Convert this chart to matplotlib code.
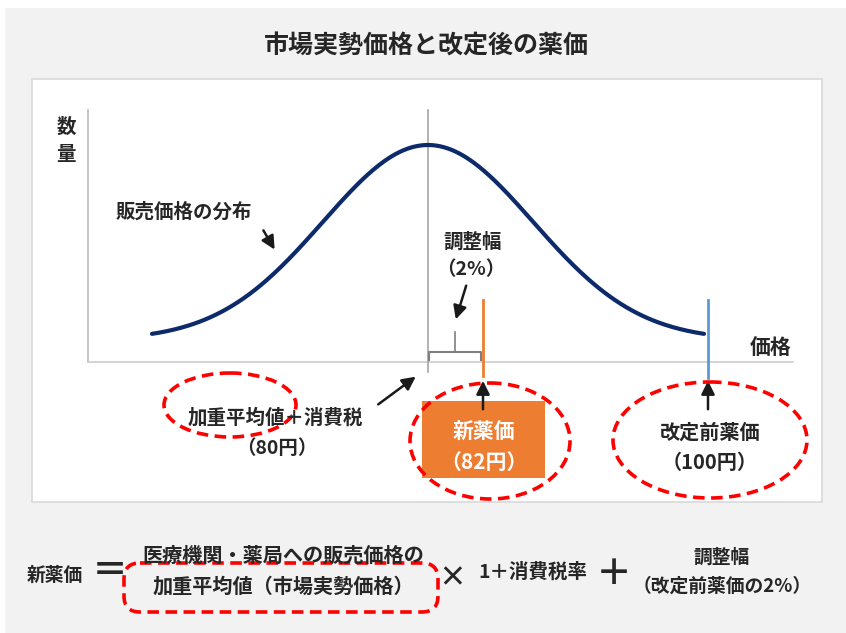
import numpy as np
import matplotlib
matplotlib.use("Agg")
import matplotlib.pyplot as plt
from matplotlib.patches import Rectangle, Ellipse, FancyBboxPatch, FancyArrowPatch

plt.rcParams['font.family'] = ['Noto Sans CJK JP', 'DejaVu Sans']

# --- data ---
title = "市場実勢価格と改定後の薬価"
prices = [80, 82, 100]                      # 加重平均値+消費税, 新薬価, 改定前薬価
price_names = ["加重平均値＋消費税", "新薬価", "改定前薬価"]
adjust_rate = 2                             # 調整幅 (%)
y_label = "数量"
x_label = "価格"
dist_label = "販売価格の分布"

# --- layout (pixel canvas, schematic price axis) ---
W, H = 846, 633
px = {80: 428, 82: 483, 100: 708}           # schematic x position of each price
axis_left, axis_right, axis_y, axis_top = 88, 793, 362, 110
curve_x0, curve_x1 = 152, 704
peak_y, base_y = 145, 340
TXT = "#262626"
RED_DASH = dict(facecolor="none", edgecolor="#ff0000", lw=2.6, ls=(0, (3.2, 1.8)))

fig = plt.figure(figsize=(W / 100, H / 100), dpi=100)
fig.patch.set_facecolor("white")
ax = fig.add_axes([0, 0, 1, 1])
ax.set_xlim(0, W)
ax.set_ylim(H, 0)
ax.axis("off")

# background and panel
ax.add_patch(Rectangle((5, 8), W - 5, H - 8, facecolor="#f2f2f2", edgecolor="none"))
ax.add_patch(Rectangle((32, 79), 790, 423, facecolor="white", edgecolor="#d9d9d9", lw=1.2))

ax.text(426, 47, title, ha="center", va="center", fontsize=18, fontweight="bold", color=TXT)

# axes lines
ax.plot([axis_left, axis_left], [axis_top, axis_y], color="#bfbfbf", lw=1.3)
ax.plot([axis_left, axis_right], [axis_y, axis_y], color="#d0d0d0", lw=1.3)
ax.plot([px[80], px[80]], [axis_top, 372], color="#a6a6a6", lw=1.2)

# distribution curve
xs = np.linspace(curve_x0, curve_x1, 300)
sigma = 105
ys = base_y - (base_y - peak_y) * np.exp(-0.5 * ((xs - px[80]) / sigma) ** 2)
ax.plot(xs, ys, color="#0d2a6b", lw=3, solid_capstyle="round")

# price marker lines
ax.plot([px[82], px[82]], [300, 376], color="#ed7d31", lw=2)
ax.plot([px[100], px[100]], [300, 378], color="#5b9bd5", lw=2)

# bracket for adjustment width
bx0, bx1, by = px[80] + 1, px[82] - 2, 352
mid = (bx0 + bx1) / 2
ax.plot([bx0, bx0, bx1, bx1], [360, by, by, 360], color="#7f7f7f", lw=1.5)
ax.plot([mid, mid], [by, 332], color="#7f7f7f", lw=1.2)


def arrow(x0, y0, x1, y1):
    ax.add_patch(FancyArrowPatch((x0, y0), (x1, y1), arrowstyle="-|>,head_length=8,head_width=4",
                                 color="#1a1a1a", lw=1.8, mutation_scale=1))


def label(x, y, s, size=14, color=TXT, ha="center"):
    ax.text(x, y, s, ha=ha, va="center", fontsize=size, fontweight="bold", color=color)


# labels in chart
label(66, 127, y_label[0])
label(66, 155, y_label[1])
label(771, 348, x_label, size=15)
label(116, 212, dist_label, ha="left")
arrow(262, 228, 276, 252)
label(473, 242, "調整幅")
label(471, 270, f"（{adjust_rate}%）")
arrow(467, 283, 455, 322)

# lower left: weighted average
label(275, 418, price_names[0])
label(277, 448, f"（{prices[0]}円）")
arrow(376, 406, 418, 375)
ax.add_patch(Ellipse((230, 405), 132, 64, **RED_DASH))

# new price box
ax.add_patch(Rectangle((422, 401), 123, 77, facecolor="#ed7d31", edgecolor="none"))
label(484, 432, price_names[1], size=15, color="white")
label(484, 462, f"（{prices[1]}円）", size=15, color="white")
arrow(px[82], 412, px[82], 378)
ax.add_patch(Ellipse((490, 441), 160, 116, **RED_DASH))

# old price
label(710, 432, price_names[2], size=14.5)
label(710, 462, f"（{prices[2]}円）", size=14.5)
arrow(px[100], 412, px[100], 378)
ax.add_patch(Ellipse((710, 440), 194, 116, **RED_DASH))

# formula
label(55, 575, "新薬価", size=13.5)
label(110, 571, "＝", size=26)
label(283, 555, "医療機関・薬局への販売価格の", size=14.5)
label(283, 586, "加重平均値（市場実勢価格）", size=14.5)
ax.add_patch(FancyBboxPatch((124, 563), 314, 49, boxstyle="round,pad=0,rounding_size=16", **RED_DASH))
label(452, 578, "×", size=20)
label(533, 572, "1＋消費税率", size=14)
label(614, 575, "＋", size=26)
label(722, 557, "調整幅", size=13.5)
label(722, 586, f"（改定前薬価の{adjust_rate}%）", size=13.5)

fig.savefig("out.png", dpi=100)
